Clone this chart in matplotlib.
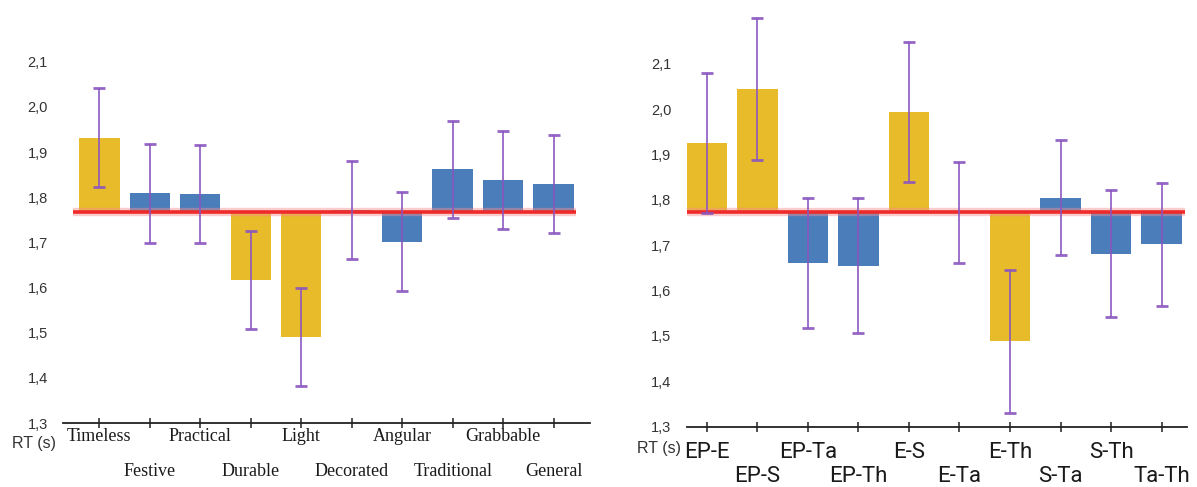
import numpy as np
import matplotlib
matplotlib.use('Agg')
import matplotlib.pyplot as plt
from matplotlib import transforms

##### data

left_labels = ['Timeless', 'Festive', 'Practical', 'Durable', 'Light',
               'Decorated', 'Angular', 'Traditional', 'Grabbable', 'General']
left_rt = [1.932, 1.809, 1.807, 1.617, 1.490, 1.772, 1.702, 1.862, 1.838, 1.830]
left_err = [0.109, 0.110, 0.109, 0.109, 0.108, 0.109, 0.109, 0.108, 0.108, 0.109]
left_gold = [True, False, False, True, True, False, False, False, False, False]
left_ref = 1.767

right_labels = ['EP-E', 'EP-S', 'EP-Ta', 'EP-Th', 'E-S',
                'E-Ta', 'E-Th', 'S-Ta', 'S-Th', 'Ta-Th']
right_rt = [1.926, 2.045, 1.661, 1.655, 1.994, 1.772, 1.488, 1.805, 1.681, 1.702]
right_err = [0.154, 0.157, 0.144, 0.149, 0.155, 0.111, 0.158, 0.127, 0.140, 0.135]
right_gold = [True, True, False, False, True, False, True, False, False, False]
right_ref = 1.774

y_ticks = [1.3, 1.4, 1.5, 1.6, 1.7, 1.8, 1.9, 2.0, 2.1]

##### style

gold = '#E8BB2A'
blue = '#4A7DBA'
red = '#EE2A2A'
purple = '#8A55C0'
cap_col = '#8E2D55'

fig = plt.figure(figsize=(11.97, 4.87), dpi=100)


def panel(rect, labels, vals, errs, golds, ref, xlim, ylim, lab_font, lab_size,
          row_y, rt_pos, line_span):
    ax = fig.add_axes(rect)
    x = np.arange(len(labels))
    cols = [gold if g else blue for g in golds]
    heights = [v - ref for v in vals]
    ax.bar(x, heights, bottom=ref, width=0.8, color=cols, zorder=2)
    # reference line with soft halo
    ax.hlines(ref, line_span[0], line_span[1], color='#F59090', lw=6, alpha=0.45, zorder=3)
    ax.hlines(ref, line_span[0], line_span[1], color=red, lw=2.6, zorder=3)
    eb = ax.errorbar(x, vals, yerr=errs, fmt='none', ecolor=purple, elinewidth=1.3,
                     capsize=4.5, capthick=2, alpha=0.9, zorder=4)
    for c in eb[1]:
        c.set_color(cap_col)
    ax.set_xlim(xlim)
    ax.set_ylim(ylim)
    for s in ['top', 'right', 'left']:
        ax.spines[s].set_visible(False)
    ax.spines['bottom'].set_color('#222222')
    ax.spines['bottom'].set_linewidth(1.3)
    ax.set_xticks(x)
    ax.set_xticklabels([])
    ax.tick_params(axis='x', direction='inout', length=7, width=1.1, color='#222222')
    ax.set_yticks(y_ticks)
    ax.set_yticklabels([f'{t:.1f}'.replace('.', ',') for t in y_ticks],
                       fontsize=10.5, color='#333333', family='Liberation Sans')
    ax.tick_params(axis='y', length=0, pad=11)
    trans = transforms.blended_transform_factory(ax.transData, fig.transFigure)
    for i, lab in enumerate(labels):
        ax.text(i, row_y[i % 2], lab, transform=trans, ha='center', va='center',
                fontsize=lab_size, family=lab_font, color='#1a1a1a', clip_on=False)
    fig.text(rt_pos[0], rt_pos[1], 'RT (s)', ha='center', va='center',
             fontsize=11.5, family='Liberation Sans', color='#333333')
    return ax


panel([0.0526, 0.1314, 0.4403, 0.788], left_labels, left_rt, left_err, left_gold,
      left_ref, (-0.72, 9.72), (1.3, 2.15), 'Liberation Serif', 13,
      (0.1033, 0.0314), (0.0284, 0.0903), (-0.52, 9.45))

panel([0.5737, 0.1238, 0.4182, 0.857], right_labels, right_rt, right_err, right_gold,
      right_ref, (-0.4, 9.51), (1.3, 2.22), 'Roboto', 16,
      (0.0700, 0.0215), (0.5505, 0.080), (-0.42, 9.47))

fig.savefig('out.png', dpi=100)
